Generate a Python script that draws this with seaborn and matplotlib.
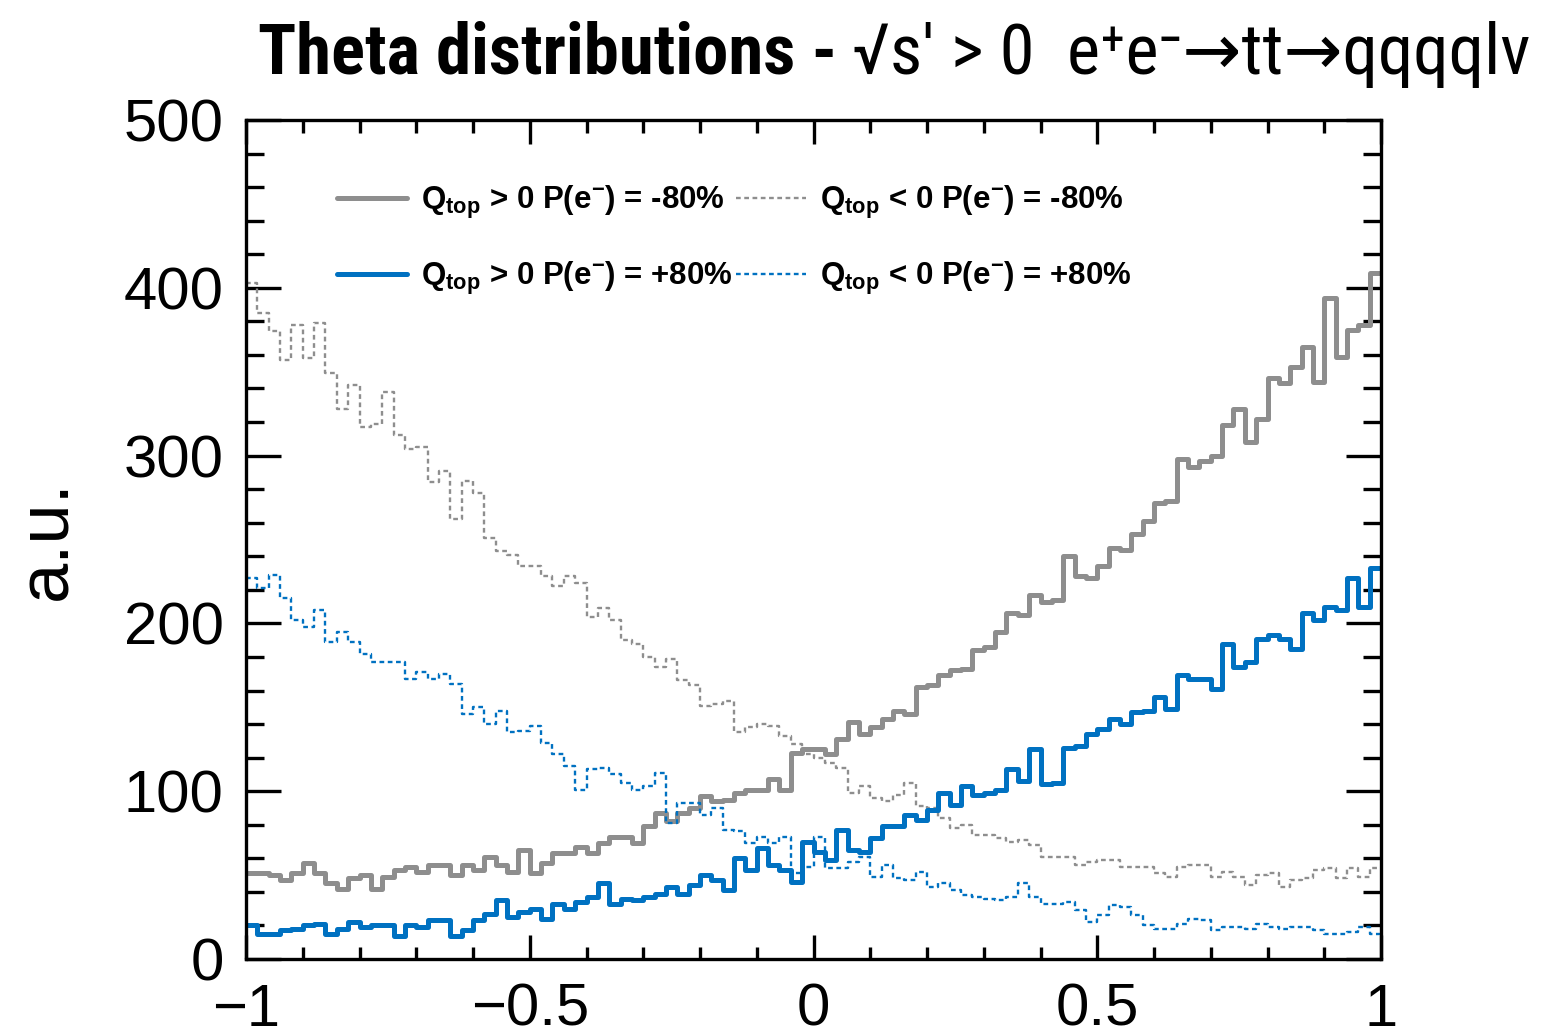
import numpy as np
import pandas as pd
import matplotlib
matplotlib.use("Agg")
import matplotlib.pyplot as plt
from matplotlib import font_manager as fm
from matplotlib.ticker import FixedLocator, MultipleLocator, FixedFormatter
import seaborn as sns

# ---------------------------------------------------------------------------
# Data: 100 bins in cos(theta) on [-1, 1]
# ---------------------------------------------------------------------------
bin_edges = np.linspace(-1.0, 1.0, 101)
bin_centers = 0.5 * (bin_edges[:-1] + bin_edges[1:])

# Q_top > 0, P(e-) = -80%
qpos_m80 = [51, 51, 50, 47, 51, 57, 51, 45, 42, 48, 50, 42, 49, 53, 55, 52, 56, 56, 50, 56,
            53, 61, 56, 52, 65, 51, 57, 63, 63, 67, 63, 69, 73, 73, 69, 79, 87, 82, 87, 90,
            97, 94, 95, 99, 101, 101, 107, 101, 123, 125, 125, 122, 131, 141, 134, 138, 143, 148, 146, 162,
            163, 169, 172, 173, 184, 186, 195, 206, 205, 217, 213, 214, 240, 228, 227, 234, 245, 244, 253, 261,
            272, 273, 298, 293, 297, 300, 318, 328, 308, 322, 346, 343, 353, 365, 344, 394, 359, 375, 378, 409]

# Q_top < 0, P(e-) = -80%
qneg_m80 = [403, 385, 374, 357, 378, 358, 379, 349, 328, 342, 317, 319, 338, 312, 304, 305, 284, 291, 262, 285,
            278, 251, 243, 241, 234, 234, 228, 222, 228, 224, 204, 209, 202, 190, 188, 180, 174, 179, 166, 163,
            151, 152, 154, 135, 138, 140, 139, 133, 128, 122, 120, 117, 114, 99, 103, 96, 94, 98, 105, 91,
            90, 84, 78, 80, 74, 74, 72, 70, 71, 68, 61, 61, 61, 56, 58, 59, 59, 55, 55, 55,
            51, 49, 55, 56, 56, 49, 52, 49, 44, 50, 51, 43, 47, 48, 53, 54, 48, 54, 49, 54]

# Q_top > 0, P(e-) = +80%
qpos_p80 = [20, 15, 15, 17, 18, 20, 21, 15, 18, 22, 19, 20, 20, 14, 20, 19, 23, 23, 14, 17,
            23, 27, 35, 25, 28, 30, 24, 33, 30, 34, 37, 45, 33, 36, 35, 37, 39, 43, 39, 44,
            50, 47, 41, 60, 53, 66, 56, 53, 46, 70, 64, 59, 77, 65, 64, 72, 79, 79, 86, 83,
            89, 99, 92, 103, 98, 99, 101, 113, 106, 125, 104, 105, 126, 127, 134, 137, 143, 140, 147, 148,
            156, 149, 169, 167, 167, 161, 188, 174, 177, 191, 193, 191, 185, 206, 202, 210, 208, 227, 210, 233]

# Q_top < 0, P(e-) = +80%
qneg_p80 = [227, 221, 229, 215, 202, 198, 208, 189, 195, 189, 182, 177, 177, 177, 167, 171, 167, 170, 164, 146,
            150, 140, 148, 135, 136, 139, 129, 122, 115, 101, 113, 114, 110, 105, 101, 103, 111, 81, 93, 93,
            86, 90, 77, 76, 69, 73, 69, 73, 51, 55, 73, 54, 54, 58, 61, 49, 56, 48, 47, 52,
            43, 45, 41, 38, 37, 36, 35, 37, 45, 37, 33, 33, 34, 29, 22, 26, 32, 31, 26, 20,
            18, 18, 21, 24, 23, 17, 19, 19, 18, 21, 19, 18, 19, 19, 17, 15, 15, 16, 19, 15]

series_labels = [
    r"Q$_{\rm top}$ > 0 P(e$^{-}$) = -80%",
    r"Q$_{\rm top}$ < 0 P(e$^{-}$) = -80%",
    r"Q$_{\rm top}$ > 0 P(e$^{-}$) = +80%",
    r"Q$_{\rm top}$ < 0 P(e$^{-}$) = +80%",
]

x_ticks = [-1.0, -0.5, 0.0, 0.5, 1.0]
x_tick_labels = ["\u22121", "\u22120.5", "0", "0.5", "1"]
y_ticks = [0, 100, 200, 300, 400, 500]
y_tick_labels = ["0", "100", "200", "300", "400", "500"]

title_bold = "Theta distributions -"
title_rest = "\u221as\u2032 > 0  e\u207ae\u207b\u2192tt\u2192qqqql\u03bd"

# ---------------------------------------------------------------------------
# Style
# ---------------------------------------------------------------------------
sns.set_theme(style="ticks")
plt.rcParams["font.family"] = ["Liberation Sans", "DejaVu Sans"]
plt.rcParams["mathtext.fontset"] = "custom"
plt.rcParams["mathtext.rm"] = "Liberation Sans:bold"
plt.rcParams["mathtext.it"] = "Liberation Sans:bold"
plt.rcParams["mathtext.bf"] = "Liberation Sans:bold"
plt.rcParams["axes.unicode_minus"] = True
for key in ("text.color", "axes.labelcolor", "xtick.color", "ytick.color",
            "xtick.labelcolor", "ytick.labelcolor", "axes.edgecolor"):
    plt.rcParams[key] = "black"

GRAY = "#8e8e8e"
BLUE = "#0071c1"


def narrow_family():
    names = {f.name for f in fm.fontManager.ttflist}
    for cand in ("Liberation Sans Narrow", "DejaVu Sans Condensed",
                 "Roboto Condensed", "Open Sans Condensed"):
        if cand in names:
            return cand, "normal"
    for f in fm.fontManager.ttflist:
        if f.name == "DejaVu Sans" and str(f.stretch) == "condensed":
            return "DejaVu Sans", "condensed"
    return "Liberation Sans", "normal"


W, H = 1542, 1036
fig = plt.figure(figsize=(W / 100, H / 100), dpi=100)
ax = fig.add_axes([246 / W, 1 - 959 / H, (1381 - 246) / W, (959 - 120) / H])

long = pd.DataFrame({
    "cos_theta": np.tile(bin_centers, 4),
    "weight": np.concatenate([qpos_m80, qneg_m80, qpos_p80, qneg_p80]),
    "series": np.repeat(series_labels, len(bin_centers)),
})

styles = {
    series_labels[0]: dict(color=GRAY, linewidth=3.6, linestyle="-"),
    series_labels[1]: dict(color=GRAY, linewidth=1.7, linestyle=(0, (2.0, 1.5))),
    series_labels[2]: dict(color=BLUE, linewidth=3.6, linestyle="-"),
    series_labels[3]: dict(color=BLUE, linewidth=1.7, linestyle=(0, (2.0, 1.5))),
}

edge_list = [float(e) for e in bin_edges]
handles = {}
for lab in series_labels:
    sub = long[long["series"] == lab]
    n_before = len(ax.lines)
    sns.histplot(data=sub, x="cos_theta", weights="weight", bins=edge_list,
                 element="step", fill=False, ax=ax, label=lab, **styles[lab])
    handles[lab] = ax.lines[n_before]

ax.set_xlim(-1, 1)
ax.set_ylim(0, 500)

# Axis frame and ticks
for sp in ax.spines.values():
    sp.set_visible(True)
    sp.set_linewidth(2.4)
    sp.set_color("black")

ax.xaxis.set_major_locator(FixedLocator(x_ticks))
ax.xaxis.set_major_formatter(FixedFormatter(x_tick_labels))
ax.xaxis.set_minor_locator(MultipleLocator(0.1))
ax.yaxis.set_major_locator(FixedLocator(y_ticks))
ax.yaxis.set_major_formatter(FixedFormatter(y_tick_labels))
ax.yaxis.set_minor_locator(MultipleLocator(20))

ax.tick_params(which="both", direction="in", top=True, right=True, colors="black")
ax.tick_params(axis="x", which="major", length=17, width=2.4, labelsize=43, pad=17)
ax.tick_params(axis="x", which="minor", length=9, width=2.4)
ax.tick_params(axis="y", which="major", length=25, width=2.4, labelsize=43, pad=16)
ax.tick_params(axis="y", which="minor", length=13, width=2.4)

ax.set_xlabel("")
ax.set_ylabel("a.u.", fontsize=52, color="black")
ax.yaxis.set_label_coords(-0.145, 0.5)

# Legend: two rows, two columns
order = [series_labels[0], series_labels[2], series_labels[1], series_labels[3]]
leg = ax.legend([handles[k] for k in order], order, ncol=2, frameon=False,
                loc="upper left", bbox_to_anchor=((337 - 246) / 1135, (959 - 184) / 839),
                borderaxespad=0, borderpad=0,
                prop={"family": "Liberation Sans", "weight": "bold", "size": 22.5},
                handlelength=2.25, handletextpad=0.45, columnspacing=0.1,
                labelspacing=1.25)
for txt in leg.get_texts():
    txt.set_color("black")

# Title
fam, stretch = narrow_family()
fig.canvas.draw()
renderer = fig.canvas.get_renderer()
title_size = 52
t1 = fig.text(258 / W, 1 - 74 / H, title_bold, family=[fam, "DejaVu Sans"], stretch=stretch,
              weight="bold", fontsize=title_size, va="baseline", ha="left", color="black")
bb1 = t1.get_window_extent(renderer=renderer)
t2 = fig.text((bb1.x1 + 15) / W, 1 - 74 / H, title_rest, family=[fam, "DejaVu Sans"],
              stretch=stretch, weight="normal", fontsize=title_size, va="baseline", ha="left",
              color="black")
bb2 = t2.get_window_extent(renderer=renderer)
span = bb2.x1 - 258
if span > 1272:
    scale = 1272 / span
    t1.set_fontsize(title_size * scale)
    t2.set_fontsize(title_size * scale)
    bb1 = t1.get_window_extent(renderer=renderer)
    t2.set_x((bb1.x1 + 15 * scale) / W)

fig.savefig("out.png", dpi=100)
